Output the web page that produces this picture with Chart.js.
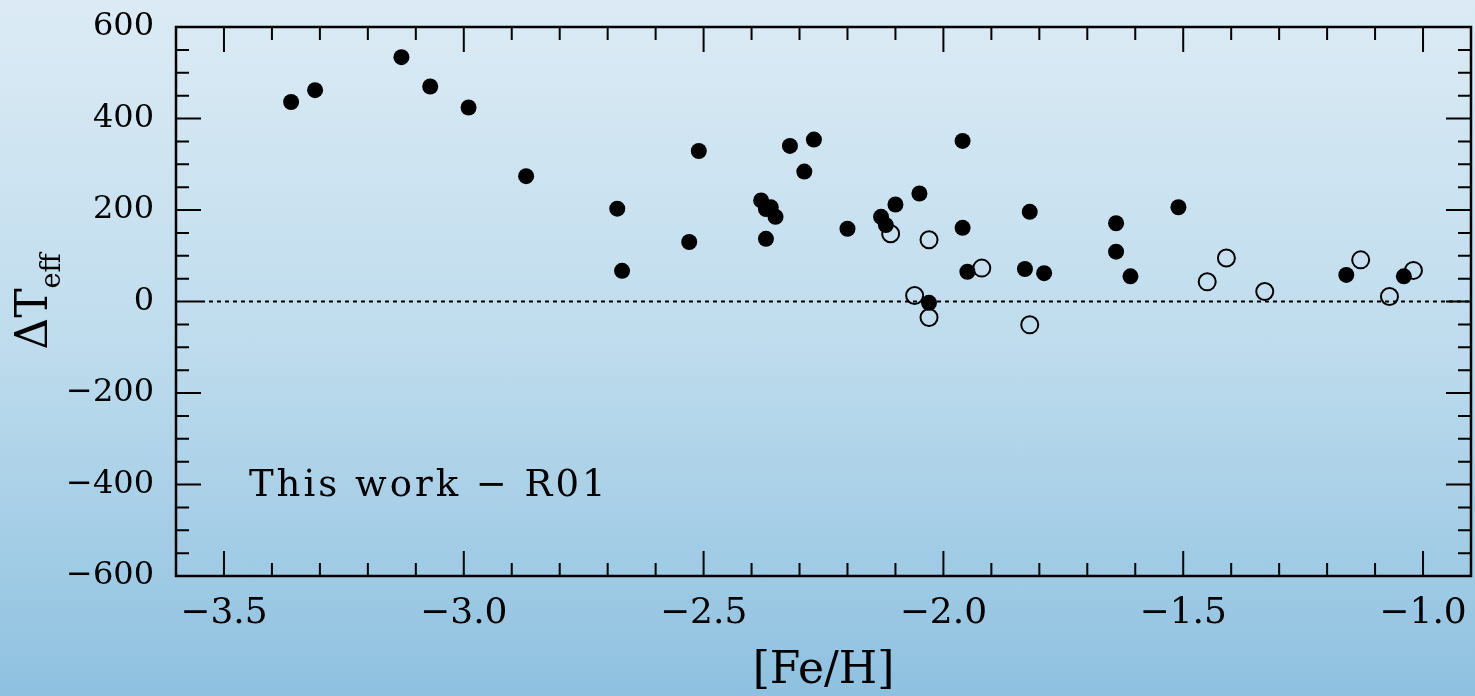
<!DOCTYPE html>
<html lang="en">
<head>
  <meta charset="UTF-8" />
  <title>Delta Teff vs [Fe/H]</title>
  <script src="https://cdn.jsdelivr.net/npm/chart.js"></script>
  <style>
    html, body {
      margin: 0;
      padding: 0;
    }
    body {
      width: 1475px;
      height: 696px;
      overflow: hidden;
      background: linear-gradient(to bottom, #dcebf5 0%, #bedced 50%, #8ec1e0 100%);
    }
    canvas {
      display: block;
    }
  </style>
</head>
<body>
  <canvas id="chart" width="1475" height="696"></canvas>

  <script>
    // filled circles
    const filledFeH = [-3.36, -3.31, -3.13, -3.07, -2.99, -2.87, -2.68, -2.67, -2.53, -2.51,
                       -2.38, -2.37, -2.36, -2.35, -2.37, -2.32, -2.29, -2.27, -2.20, -2.13,
                       -2.12, -2.10, -2.05, -2.03, -1.96, -1.96, -1.95, -1.83, -1.82, -1.79,
                       -1.64, -1.64, -1.61, -1.51, -1.16, -1.04];
    const filledDT = [436, 462, 534, 470, 424, 274, 203, 67, 130, 329,
                      221, 202, 206, 185, 137, 340, 284, 354, 159, 185,
                      167, 212, 236, -3, 351, 161, 65, 71, 196, 62,
                      171, 109, 55, 206, 58, 55];

    // open circles
    const openFeH = [-2.11, -2.03, -2.06, -2.03, -1.92, -1.82, -1.45, -1.41, -1.33, -1.13, -1.07, -1.02];
    const openDT = [148, 135, 13, -35, 73, -51, 43, 95, 22, 91, 11, 68];

    const xTicks = [-3.5, -3.0, -2.5, -2.0, -1.5, -1.0];
    const yTicks = [-600, -400, -200, 0, 200, 400, 600];

    const tickFont = "'DejaVu Serif', serif";

    function toPoints(xs, ys) {
      return xs.map((x, i) => ({ x: x, y: ys[i] }));
    }

    function fmtMinus(v, digits) {
      const s = Math.abs(v).toFixed(digits);
      return v < 0 ? "\u2212" + s : s;
    }

    // frame, inward ticks on all sides, dotted zero line, labels
    const framePlugin = {
      id: "frame",
      beforeDatasetsDraw(chart) {
        const { ctx, chartArea: a, scales } = chart;
        const xs = scales.x, ys = scales.y;
        ctx.save();
        ctx.strokeStyle = "#000";

        // dotted line at zero
        ctx.lineWidth = 2;
        ctx.setLineDash([4, 4]);
        const y0 = ys.getPixelForValue(0);
        ctx.beginPath();
        ctx.moveTo(a.left + 25, y0);
        ctx.lineTo(a.right, y0);
        ctx.stroke();
        ctx.setLineDash([]);

        // ticks
        ctx.lineWidth = 2;
        ctx.beginPath();
        for (let i = -36; i <= -9; i++) {
          const px = xs.getPixelForValue(i / 10);
          const len = i % 5 === 0 ? 25 : 13;
          ctx.moveTo(px, a.bottom);
          ctx.lineTo(px, a.bottom - len);
          ctx.moveTo(px, a.top);
          ctx.lineTo(px, a.top + len);
        }
        for (let i = -12; i <= 12; i++) {
          const py = ys.getPixelForValue(i * 50);
          const len = i % 4 === 0 ? 25 : 13;
          ctx.moveTo(a.left, py);
          ctx.lineTo(a.left + len, py);
          ctx.moveTo(a.right, py);
          ctx.lineTo(a.right - len, py);
        }
        ctx.stroke();

        // frame
        ctx.lineWidth = 2.5;
        ctx.strokeRect(a.left, a.top, a.right - a.left, a.bottom - a.top);

        // in-plot label
        ctx.fillStyle = "#000";
        ctx.font = "37px " + tickFont;
        ctx.letterSpacing = "3px";
        ctx.textAlign = "left";
        ctx.textBaseline = "middle";
        ctx.fillText("This work \u2212 R01", xs.getPixelForValue(-3.448), ys.getPixelForValue(-405));
        ctx.letterSpacing = "0px";

        // x axis title
        ctx.font = "44px " + tickFont;
        ctx.textAlign = "center";
        ctx.textBaseline = "alphabetic";
        ctx.fillText("[Fe/H]", (a.left + a.right) / 2, 683);

        // y axis title with subscript, rotated
        const big = "44px " + tickFont, small = "27px " + tickFont;
        ctx.font = big;
        const w1 = ctx.measureText("\u0394T").width;
        ctx.font = small;
        const w2 = ctx.measureText("eff").width;
        ctx.translate(47, (a.top + a.bottom) / 2);
        ctx.rotate(-Math.PI / 2);
        ctx.textAlign = "left";
        const start = -(w1 + w2) / 2;
        ctx.font = big;
        ctx.fillText("\u0394T", start, 0);
        ctx.font = small;
        ctx.fillText("eff", start + w1, 13);
        ctx.restore();
      }
    };

    new Chart(document.getElementById("chart").getContext("2d"), {
      type: "scatter",
      data: {
        datasets: [
          {
            label: "open",
            data: toPoints(openFeH, openDT),
            pointRadius: 8.5,
            pointBorderWidth: 2,
            borderColor: "#000",
            backgroundColor: "rgba(0,0,0,0)",
            pointHoverRadius: 8.5
          },
          {
            label: "filled",
            data: toPoints(filledFeH, filledDT),
            pointRadius: 8,
            pointBorderWidth: 0,
            borderColor: "#000",
            backgroundColor: "#000",
            pointHoverRadius: 8
          }
        ]
      },
      options: {
        responsive: false,
        animation: false,
        events: [],
        layout: { autoPadding: false, padding: { top: 27, right: 4, left: 0, bottom: 0 } },
        plugins: {
          legend: { display: false },
          tooltip: { enabled: false }
        },
        scales: {
          x: {
            type: "linear",
            min: -3.6,
            max: -0.9,
            grid: { display: false, drawTicks: false },
            border: { display: false },
            afterBuildTicks: s => { s.ticks = xTicks.map(v => ({ value: v })); },
            afterFit: s => { s.height = 120; s.paddingLeft = 0; s.paddingRight = 0; },
            ticks: {
              autoSkip: false,
              maxRotation: 0,
              padding: 16,
              color: "#000",
              font: { family: tickFont, size: 36 },
              callback: v => fmtMinus(v, 1)
            }
          },
          y: {
            type: "linear",
            min: -600,
            max: 600,
            grid: { display: false, drawTicks: false },
            border: { display: false },
            afterBuildTicks: s => { s.ticks = yTicks.map(v => ({ value: v })); },
            afterFit: s => { s.width = 176; s.paddingTop = 0; s.paddingBottom = 0; },
            ticks: {
              autoSkip: false,
              padding: 22,
              color: "#000",
              font: { family: tickFont, size: 32 },
              callback: v => fmtMinus(v, 0)
            }
          }
        }
      },
      plugins: [framePlugin]
    });
  </script>
</body>
</html>
